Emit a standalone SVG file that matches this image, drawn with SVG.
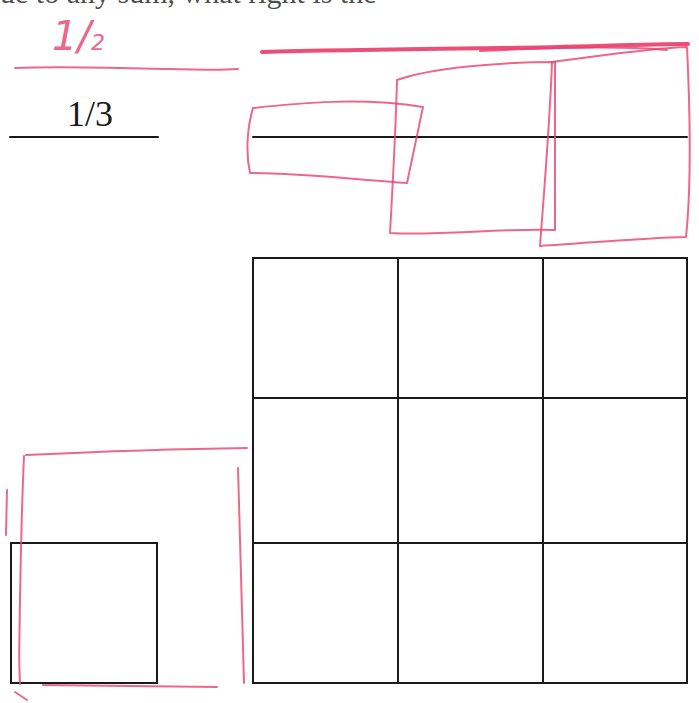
<svg xmlns="http://www.w3.org/2000/svg" width="699" height="703" viewBox="0 0 699 703">
<style>
.ink{fill:none;stroke:#1a1a1a;stroke-width:2;stroke-linecap:round}
.red{fill:none;stroke:#e8416f;stroke-width:2;stroke-linecap:round;stroke-linejoin:round;opacity:0.8}
.redthick{fill:none;stroke:#e8305f;stroke-width:4;stroke-linecap:round;opacity:0.85}
.txt{font-family:"Liberation Serif","Times New Roman",serif;fill:#1a1a1a}
</style>
<rect width="699" height="703" fill="#ffffff"/>
<g id="header-text">
<text class="txt" x="0" y="3" font-size="30" fill-opacity="0.8">ue to any sum, what right is the</text>
</g>
<g id="half-label">
<text x="52" y="50" font-family="DejaVu Sans, sans-serif" font-style="italic" fill="#e8416f" opacity="0.8"><tspan font-size="40">1/</tspan><tspan font-size="22">2</tspan></text>
<path class="red" d="M15 68 C60 66 120 68 170 69 S220 70 238 69"/>
</g>
<g id="third-label">
<text class="txt" x="67" y="126" font-size="36" fill="#333">1/3</text>
<line class="ink" x1="10" y1="137" x2="158" y2="137"/>
</g>
<g id="long-bar">
<line class="ink" x1="253" y1="137" x2="687" y2="137" stroke-width="2.5"/>
<path class="redthick" d="M262 52 C330 50 420 49 500 48 S640 44 688 44"/>
<path class="red" d="M480 51 C560 47 620 46 667 50" stroke-width="3"/>
<path class="red" d="M253 108 C300 103 360 97 423 107 L407 183 C360 180 300 173 250 173 C245 150 248 125 253 108"/>
<path class="red" d="M397 80 C430 68 500 62 555 62 L555 230 C500 228 440 236 390 233 C393 180 396 120 397 80"/>
<path class="red" d="M552 62 C600 56 650 48 687 47 C690 110 692 180 686 237 C640 238 590 243 540 246 C545 180 550 120 552 62"/>
</g>
<g id="grid">
<rect class="ink" x="253" y="258" width="434" height="425" fill="none"/>
<line class="ink" x1="398" y1="258" x2="398" y2="683"/>
<line class="ink" x1="543" y1="258" x2="543" y2="683"/>
<line class="ink" x1="253" y1="398" x2="687" y2="398"/>
<line class="ink" x1="253" y1="543" x2="687" y2="543"/>
</g>
<g id="small-square">
<rect class="ink" x="11" y="543" width="146" height="140"/>
<path class="red" d="M26 455 C90 452 170 449 247 448"/>
<path class="red" d="M24 456 C22 500 21 540 20 600 S19 660 20 684" opacity="0.5"/>
<path class="red" d="M7 490 L6 535" opacity="0.6"/>
<path class="red" d="M238 468 C240 540 242 610 244 683" opacity="0.7"/>
<path class="red" d="M43 685 C110 686 170 687 217 687" opacity="0.6"/>
<path class="red" d="M15 692 L27 700"/>
</g>
</svg>
